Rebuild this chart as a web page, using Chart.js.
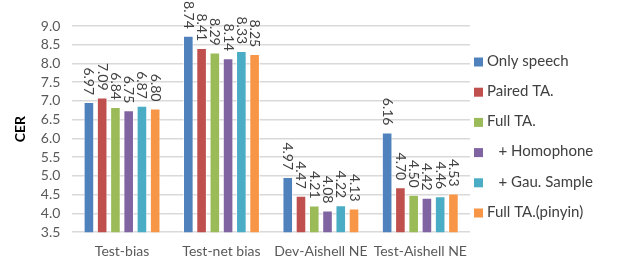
<!DOCTYPE html>
<html>
<head>
<meta charset="utf-8">
<script src="https://cdn.jsdelivr.net/npm/chart.js@4/dist/chart.umd.min.js"></script>
<style>
    html, body { margin: 0; padding: 0; background: #fff; }
    #wrap { width: 617px; height: 260px; }
</style>
</head>
<body>
<div id="wrap"><canvas id="cerChart"></canvas></div>
<script>
// Chart data
const categories = ['Test-bias', 'Test-net bias', 'Dev-Aishell NE', 'Test-Aishell NE'];
const seriesNames = ['Only speech', 'Paired TA.', 'Full TA.', '   + Homophone', '   + Gau. Sample', 'Full TA.(pinyin)'];
const onlySpeech = [6.97, 8.74, 4.97, 6.16];
const pairedTA = [7.09, 8.41, 4.47, 4.70];
const fullTA = [6.84, 8.29, 4.21, 4.50];
const homophone = [6.75, 8.14, 4.08, 4.42];
const gauSample = [6.87, 8.33, 4.22, 4.46];
const fullPinyin = [6.80, 8.25, 4.13, 4.53];
const yTicks = [3.5, 4.0, 4.5, 5.0, 5.5, 6.0, 6.5, 7.0, 7.5, 8.0, 8.5, 9.0];

const colors = ['#4F81BD', '#C0504D', '#9BBB59', '#8064A2', '#4BACC6', '#F79646'];
const seriesValues = [onlySpeech, pairedTA, fullTA, homophone, gauSample, fullPinyin];
const fontFamily = 'Lato, "Open Sans", sans-serif';

// Draw the values rotated above each bar
const barLabels = {
    id: 'barLabels',
    afterDatasetsDraw(chart) {
        const ctx = chart.ctx;
        ctx.save();
        ctx.font = '14px ' + fontFamily;
        ctx.fillStyle = '#404040';
        chart.data.datasets.forEach(function(ds, i) {
            chart.getDatasetMeta(i).data.forEach(function(bar, j) {
                ctx.save();
                ctx.translate(bar.x, bar.y - 7);
                ctx.rotate(Math.PI / 2);
                ctx.textAlign = 'right';
                ctx.textBaseline = 'middle';
                ctx.fillText(ds.data[j].toFixed(2), 0, 0);
                ctx.restore();
            });
        });
        ctx.restore();
    }
};

// Legend on the right, drawn by hand so it can sit close to the plot
const sideLegend = {
    id: 'sideLegend',
    afterDraw(chart) {
        const ctx = chart.ctx;
        const x = chart.chartArea.right + 4;
        ctx.save();
        ctx.font = '15px ' + fontFamily;
        ctx.textAlign = 'left';
        ctx.textBaseline = 'middle';
        chart.data.datasets.forEach(function(ds, i) {
            const y = 62 + i * 30.2;
            ctx.fillStyle = ds.backgroundColor;
            ctx.fillRect(x, y - 4.5, 9, 9);
            ctx.fillStyle = '#404040';
            ctx.fillText(ds.label, x + 13, y - 1);
        });
        ctx.restore();
    }
};

new Chart(document.getElementById('cerChart'), {
    type: 'bar',
    data: {
        labels: categories,
        datasets: seriesValues.map(function(vals, i) {
            return {
                label: seriesNames[i],
                data: vals,
                backgroundColor: colors[i],
                borderColor: 'rgba(255,255,255,0.6)',
                borderWidth: 1,
                barPercentage: 0.8,
                categoryPercentage: 0.8
            };
        })
    },
    options: {
        responsive: true,
        maintainAspectRatio: false,
        animation: false,
        layout: { padding: { top: 26, right: 147, left: 12, bottom: -11 } },
        scales: {
            x: {
                grid: { display: false, drawTicks: false },
                border: { display: false },
                ticks: {
                    color: '#595959',
                    font: { family: fontFamily, size: 14 },
                    padding: 11,
                    maxRotation: 0,
                    autoSkip: false
                }
            },
            y: {
                min: 3.5,
                max: 9.0,
                afterBuildTicks: function(axis) {
                    axis.ticks = yTicks.map(function(v) { return { value: v }; });
                },
                grid: { color: '#d9d9d9', lineWidth: 1.5, drawTicks: false },
                border: { display: false },
                ticks: {
                    color: '#595959',
                    font: { family: fontFamily, size: 14 },
                    padding: 12,
                    autoSkip: false,
                    callback: function(value) { return value.toFixed(1); }
                },
                title: {
                    display: true,
                    text: 'CER',
                    color: '#000',
                    font: { family: fontFamily, size: 14, weight: 'bold' },
                    padding: 0
                }
            }
        },
        plugins: {
            legend: { display: false },
            tooltip: { enabled: false }
        }
    },
    plugins: [barLabels, sideLegend]
});
</script>
</body>
</html>
